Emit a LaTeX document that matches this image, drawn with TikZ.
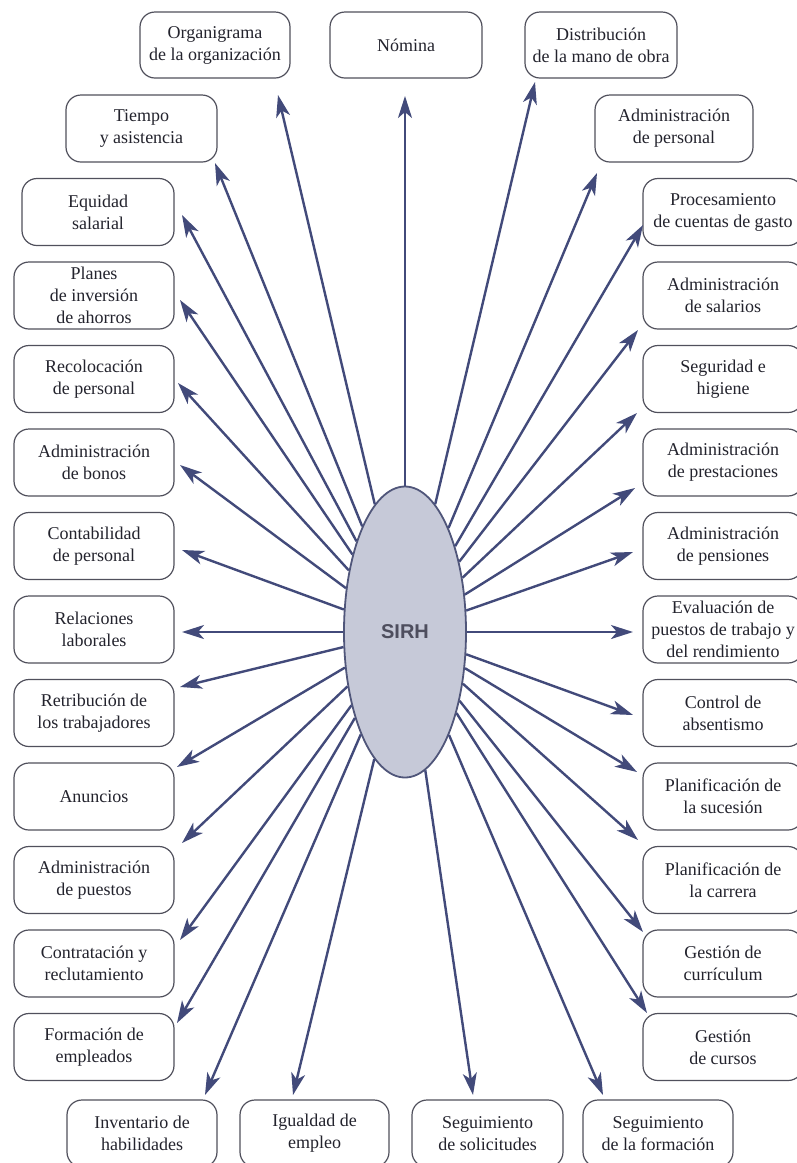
\documentclass[tikz,border=0pt]{standalone}
\usepackage{fontspec}
\setmainfont{Liberation Serif}
\newfontfamily\boxfont{Liberation Serif}
\newfontfamily\sirhfont{Liberation Sans}
\usetikzlibrary{shapes.geometric,arrows.meta}
\definecolor{linecol}{RGB}{66,74,122}
\definecolor{boxcol}{RGB}{80,80,92}
\definecolor{txtcol}{RGB}{35,35,45}
\definecolor{ellfill}{RGB}{198,201,216}
\definecolor{ellline}{RGB}{80,86,122}
\definecolor{sirhtxt}{RGB}{78,78,94}
\tikzset{
  box/.style={draw=boxcol, line width=1.2pt, rounded corners=15pt, align=center,
    inner sep=0pt, text=txtcol, font=\boxfont\fontsize{18}{22}\selectfont},
  topbox/.style={box, minimum width=150pt, minimum height=66pt},
  colbox/.style={box, minimum width=160pt, minimum height=67pt},
  conn/.style={draw=linecol, line width=2.4pt,
    -{Stealth[length=22pt,width=14pt,inset=6pt]}},
}
\begin{document}
\begin{tikzpicture}[x=1pt,y=-1pt]
\useasboundingbox (0,0) rectangle (796,1163);
\fill[white] (0,0) rectangle (796,1163);

% top row
\node[topbox] (org)  at (215,45) {Organigrama\\de la organización};
\node[topbox, minimum width=152pt] (nom)  at (406,45) {Nómina};
\node[topbox, minimum width=152pt] (dist) at (601,45) {Distribución\\de la mano de obra};

% left column
\node[colbox, minimum width=151pt] (tiempo) at (141.5,128.5) {Tiempo\\y asistencia};
\node[colbox, minimum width=152pt] (equid)  at (98,212) {Equidad\\salarial};
\node[colbox] (planes) at (94,295.5) {Planes\\de inversión\\de ahorros};
\node[colbox] (recol)  at (94,379) {Recolocación\\de personal};
\node[colbox] (bonos)  at (94,462.5) {Administración\\de bonos};
\node[colbox] (cont)   at (94,546) {Contabilidad\\de personal};
\node[colbox] (rel)    at (94,629.5) {Relaciones\\laborales};
\node[colbox] (retr)   at (94,713) {Retribución de\\los trabajadores};
\node[colbox] (anun)   at (94,796.5) {Anuncios};
\node[colbox] (apue)   at (94,880) {Administración\\de puestos};
\node[colbox] (contr)  at (94,963.5) {Contratación y\\reclutamiento};
\node[colbox] (form)   at (94,1047) {Formación de\\empleados};

% right column
\node[colbox, minimum width=158pt] (admper) at (674,128.5) {Administración\\de personal};
\node[colbox] (proc)  at (723,212) {Procesamiento\\de cuentas de gasto};
\node[colbox] (sal)   at (723,295.5) {Administración\\de salarios};
\node[colbox] (seg)   at (723,379) {Seguridad e\\higiene};
\node[colbox] (prest) at (723,462.5) {Administración\\de prestaciones};
\node[colbox] (pens)  at (723,546) {Administración\\de pensiones};
\node[colbox] (eval)  at (723,629.5) {Evaluación de\\puestos de trabajo y\\del rendimiento};
\node[colbox] (ctrl)  at (723,713) {Control de\\absentismo};
\node[colbox] (psuc)  at (723,796.5) {Planificación de\\la sucesión};
\node[colbox] (pcar)  at (723,880) {Planificación de\\la carrera};
\node[colbox] (gcurr) at (723,963.5) {Gestión de\\currículum};
\node[colbox] (gcur)  at (723,1047) {Gestión\\de cursos};

% bottom row
\node[colbox, minimum width=150pt] (inv)   at (142,1133.5) {Inventario de\\habilidades};
\node[colbox, minimum width=149pt] (igual) at (314.5,1133.5) {Igualdad de\\empleo};
\node[colbox, minimum width=151pt] (segs)  at (487.5,1133.5) {Seguimiento\\de solicitudes};
\node[colbox, minimum width=150pt] (segf)  at (658,1133.5) {Seguimiento\\de la formación};

% centre
\node[ellipse, draw=ellline, line width=1.8pt, fill=ellfill, minimum width=122pt,
  minimum height=291pt, inner sep=0pt, text=sirhtxt,
  font=\sirhfont\bfseries\fontsize{20}{24}\selectfont] (sirh) at (405,632) {SIRH};

% arrow tips
\coordinate (t-org) at (278,95);
\coordinate (t-nom) at (405,96);
\coordinate (t-dist) at (535,82);
\coordinate (t-tiempo) at (215,163);
\coordinate (t-equid) at (182,215);
\coordinate (t-planes) at (180,300);
\coordinate (t-recol) at (178,383);
\coordinate (t-bonos) at (180,465);
\coordinate (t-cont) at (182,550);
\coordinate (t-rel) at (182,632);
\coordinate (t-retr) at (180,687);
\coordinate (t-anun) at (177,767);
\coordinate (t-apue) at (182,843);
\coordinate (t-contr) at (180,940);
\coordinate (t-form) at (177,1023);
\coordinate (t-inv) at (205,1095);
\coordinate (t-igual) at (293,1095);
\coordinate (t-segs) at (473,1095);
\coordinate (t-segf) at (603,1095);
\coordinate (t-gcur) at (647,1013);
\coordinate (t-gcurr) at (643,932);
\coordinate (t-pcar) at (638,840);
\coordinate (t-psuc) at (637,772);
\coordinate (t-ctrl) at (633,715);
\coordinate (t-eval) at (633,632);
\coordinate (t-pens) at (633,552);
\coordinate (t-prest) at (635,488);
\coordinate (t-seg) at (637,413);
\coordinate (t-sal) at (638,330);
\coordinate (t-proc) at (643,225);
\coordinate (t-admper) at (597,173);

\foreach \n in {org,nom,dist,tiempo,equid,planes,recol,bonos,cont,rel,retr,anun,apue,contr,form,inv,igual,segs,segf,gcur,gcurr,pcar,psuc,ctrl,eval,pens,prest,seg,sal,proc,admper}
  \draw[conn] (sirh) -- (t-\n);
\end{tikzpicture}
\end{document}
